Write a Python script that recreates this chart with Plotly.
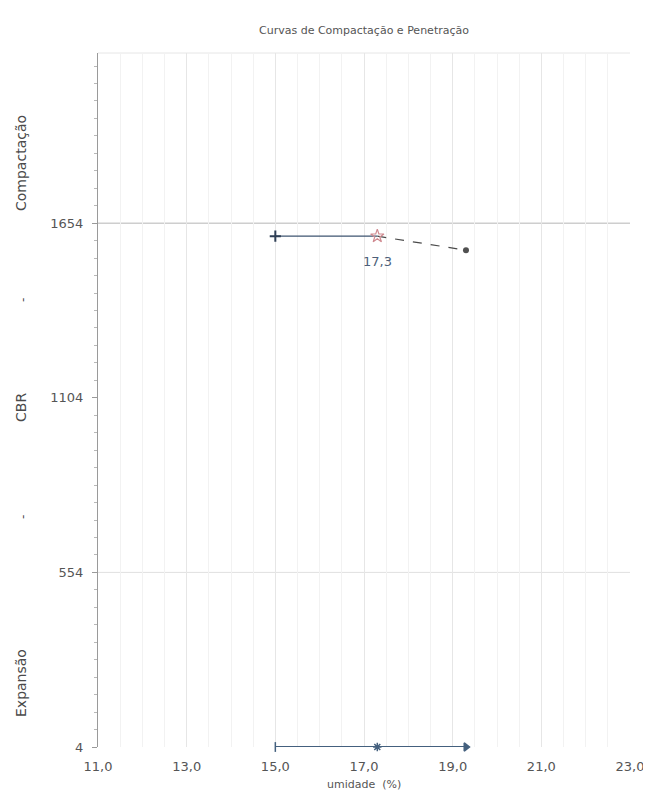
import plotly.graph_objects as go

# Data
umidade_comp = [15.0, 17.3, 19.3]
densidade_comp = [1613, 1613, 1569]
umidade_otima = [17.3]
densidade_max = [1613]
rotulo_otima = ["17,3"]
umidade_exp = [15.0, 17.3, 19.3]
expansao = [4, 4, 4]
y_ticks = [4, 554, 1104, 1654]
x_ticks = [11.0, 13.0, 15.0, 17.0, 19.0, 21.0, 23.0]

font = "DejaVu Sans, Verdana, sans-serif"
txt_color = "#555555"

fig = go.Figure()

fig.add_trace(go.Scatter(
    x=umidade_comp[:2], y=densidade_comp[:2], mode="lines",
    line=dict(color="#3e5470", width=1.2), showlegend=False))
fig.add_trace(go.Scatter(
    x=umidade_comp[1:], y=densidade_comp[1:], mode="lines",
    line=dict(color="#4a4a4a", width=1.2, dash="dash"), showlegend=False))
fig.add_trace(go.Scatter(
    x=[umidade_comp[0]], y=[densidade_comp[0]], mode="markers",
    marker=dict(symbol="cross-thin", size=8, line=dict(color="#2f3f55", width=2)),
    showlegend=False))
fig.add_trace(go.Scatter(
    x=[umidade_comp[2]], y=[densidade_comp[2]], mode="markers",
    marker=dict(symbol="circle", size=6, color="#505050"), showlegend=False))
fig.add_trace(go.Scatter(
    x=umidade_otima, y=densidade_max, mode="markers",
    marker=dict(symbol="star-open", size=10, color="#d08a90", line=dict(width=1.2)),
    showlegend=False))

fig.add_trace(go.Scatter(
    x=umidade_exp, y=expansao, mode="lines+markers",
    line=dict(color="#44607e", width=2.2),
    marker=dict(symbol=["line-ns", "asterisk", "triangle-right"], size=7,
                color="#44607e", line=dict(color="#44607e", width=1.5)),
    showlegend=False, cliponaxis=False))

shapes = [
    dict(type="line", xref="paper", x0=0, x1=1, yref="y", y0=y_ticks[3], y1=y_ticks[3],
         line=dict(color="#b5b5b5", width=1), layer="below"),
    dict(type="line", xref="paper", x0=0, x1=1, yref="y", y0=y_ticks[1], y1=y_ticks[1],
         line=dict(color="#e0e0e0", width=1), layer="below"),
    dict(type="line", xref="paper", x0=0, x1=1, yref="paper", y0=1, y1=1,
         line=dict(color="#e6e6e6", width=1), layer="below"),
]

# page body has an 8px margin; work in screen coordinates and subtract it
OFF = 8
W, H = 651 - OFF, 796 - OFF
L, R, T, B = 98 - OFF, 21, 53 - OFF, 49
pw, ph = W - L - R, H - T - B


def px2paper(sx, sy):
    return (sx - OFF - L) / pw, 1 - (sy - OFF - T) / ph


labels = [("Compactação", 21, 163), ("CBR", 21, 408), ("Expansão", 21, 683)]
ann = []
for txt, sx, sy in labels:
    ax, ay = px2paper(sx, sy)
    ann.append(dict(text=txt, x=ax, y=ay, xref="paper", yref="paper", showarrow=False,
                    xanchor="center", yanchor="middle",
                    textangle=-90, font=dict(family=font, size=14, color="#4a4a4a")))
for sy in [300, 517]:
    ax, ay = px2paper(23, sy)
    ann.append(dict(text="-", x=ax, y=ay, xref="paper", yref="paper", showarrow=False,
                    xanchor="center", yanchor="middle",
                    textangle=-90, font=dict(family=font, size=12, color="#4a4a4a")))
ax, ay = px2paper(364, 784)
ann.append(dict(text="umidade  (%)", x=ax, y=ay, xref="paper", yref="paper",
                showarrow=False, xanchor="center", yanchor="middle",
                font=dict(family=font, size=11, color=txt_color)))
ann.append(dict(text=rotulo_otima[0], x=umidade_otima[0], y=densidade_max[0],
                xref="x", yref="y", showarrow=False, yshift=-25,
                font=dict(family=font, size=13, color="#4d5f7a")))

fig.update_layout(
    width=W, height=H,
    margin=dict(l=L, r=R, t=T, b=B, autoexpand=False),
    paper_bgcolor="white", plot_bgcolor="white",
    separators=",.",
    title=dict(text="Curvas de Compactação e Penetração", x=(L + pw / 2) / W,
               xanchor="center", y=1 - (30 - OFF) / H, yanchor="middle",
               font=dict(family=font, size=11, color=txt_color)),
    xaxis=dict(range=[11, 23], tickvals=x_ticks, tickformat=".1f", automargin=False,
               showgrid=True, gridcolor="#e6e6e6", gridwidth=1,
               minor=dict(dtick=0.5, tick0=11, showgrid=True, gridcolor="#f2f2f2"),
               showline=False, zeroline=False, ticks="", ticklabelstandoff=10,
               tickfont=dict(family=font, size=13, color=txt_color)),
    yaxis=dict(range=[4, 2190], tickvals=y_ticks, showgrid=False, zeroline=False,
               automargin=False,
               showline=True, linecolor="#9a9a9a", linewidth=1,
               ticks="outside", ticklen=5, tickcolor="#9a9a9a", ticklabelstandoff=6,
               minor=dict(dtick=55, tick0=4, ticks="outside", ticklen=3, tickcolor="#b8b8b8"),
               tickfont=dict(family=font, size=13, color=txt_color)),
    shapes=shapes,
    annotations=ann,
)

fig.write_html("out.html")
